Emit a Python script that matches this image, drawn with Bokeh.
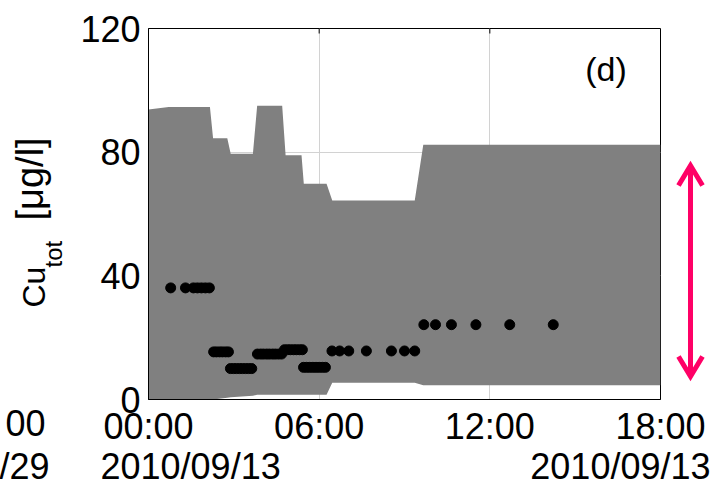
from math import pi

from bokeh.plotting import figure
from bokeh.models import Range1d, FixedTicker
from bokeh.core.properties import value
from bokeh.embed import file_html
from bokeh.resources import INLINE

# Time axis: hours after 2010/09/13 00:00
band_t = [0.0, 0.71, 2.16, 2.27, 2.77, 2.89, 3.67, 3.82, 4.70, 4.82,
          5.38, 5.46, 6.26, 6.46, 9.36, 9.66, 18.0]
band_hi = [93.8, 94.6, 94.6, 84.5, 84.5, 79.5, 79.5, 95.0, 95.0, 79.0,
           79.0, 69.8, 69.8, 64.4, 64.4, 82.4, 82.4]
band_lo = [0.0, 0.0, 0.0, 0.0, 0.6, 0.75, 1.2, 1.5, 1.5, 1.5,
           1.5, 1.5, 1.5, 5.4, 5.4, 4.6, 4.6]

# measured total copper
cu_t = [0.78, 1.30, 1.58, 1.72, 1.86, 2.00, 2.14,
        2.29, 2.39, 2.50, 2.60, 2.71, 2.81,
        2.88, 2.99, 3.09, 3.20, 3.30, 3.41, 3.52, 3.63,
        3.83, 3.94, 4.04, 4.15, 4.25, 4.36, 4.46, 4.57, 4.68,
        4.78, 4.89, 4.99, 5.10, 5.20, 5.31, 5.41,
        5.45, 5.56, 5.67, 5.78, 5.89, 6.00, 6.11, 6.22,
        6.45, 6.72, 7.04, 7.66, 8.54, 9.00, 9.36,
        9.68, 10.09, 10.65, 11.51, 12.70, 14.23]
cu_v = [36.1] * 7 + [15.4] * 6 + [10.0] * 8 + [14.7] * 9 + [16.1] * 7 \
    + [10.4] * 8 + [15.7] * 7 + [24.2] * 6

x_ticks = [0, 6, 12, 18]
x_tick_labels = ["00:00", "06:00", "12:00", "18:00"]
y_ticks = [0, 40, 80, 120]
date_text = "2010/09/13"

FONT = "Liberation Sans"
W, H = 721, 490
L, R, T, B = 148, 61, 28, 91
FW, FH = W - L - R, H - T - B
X0, X1, Y0, Y1 = 0, 18, 0, 120


def dx(px):
    return X0 + (px - L) * (X1 - X0) / FW


def dy(py):
    return Y0 + (H - B - py) * (Y1 - Y0) / FH


p = figure(width=W, height=H, x_range=Range1d(X0, X1), y_range=Range1d(Y0, Y1),
           output_backend="svg", toolbar_location=None,
           min_border_left=L, min_border_right=R, min_border_top=T, min_border_bottom=B)
p.background_fill_color = "white"
p.border_fill_color = "white"
p.outline_line_color = "black"
p.outline_line_width = 1

# axes
xa = p.below[0]
xa.ticker = FixedTicker(ticks=x_ticks)
xa.major_label_overrides = dict(zip(x_ticks, x_tick_labels))
ya = p.left[0]
ya.ticker = FixedTicker(ticks=y_ticks)
for ax in (xa, ya):
    ax.major_label_text_font = FONT
    ax.major_label_text_font_size = "36px"
    ax.major_label_text_color = "black"
    ax.major_tick_in = 0
    ax.major_tick_out = 0
    ax.minor_tick_line_color = None
    ax.axis_line_color = "black"
    ax.major_label_standoff = 6
ya.major_label_standoff = 8

p.xgrid.ticker = FixedTicker(ticks=[6, 12])
p.ygrid.ticker = FixedTicker(ticks=[40, 80])
p.grid.grid_line_color = "#d2d2d2"
p.grid.grid_line_width = 1

# uncertainty band and measurements
p.varea(x=band_t, y1=band_lo, y2=band_hi, fill_color="#808080")
p.scatter(cu_t, cu_v, size=10, color="black")

# short inward ticks on the top edge
p.segment(x0=[6, 12], y0=[Y1, Y1], x1=[6, 12], y1=[dy(T + 5)] * 2,
          line_color="black", line_width=1)

# the text glyph sits its baseline about 0.4 em below the anchor; compensate
BASE_SHIFT = 0.4


# free texts around the frame (overlay level, so they are not clipped)
def lab(text, px, py, size=36, align="left", angle=0.0):
    if angle:
        px -= BASE_SHIFT * size
    else:
        py -= BASE_SHIFT * size
    p.text(x=[dx(px)], y=[dy(py)], text=[text], angle=angle,
           text_font=value(FONT), text_font_size=value(f"{size}px"),
           text_color="black", text_align=align, text_baseline="alphabetic",
           level="overlay")


lab(date_text, 100, 480)
lab(date_text, 710, 480, align="right")
lab("00", 45, 437, align="right")
lab("/29", 49, 480, align="right")
lab("(d)", 605.5, 82, size=34, align="center")

lab("Cu", 46, 307, size=32, angle=pi / 2)
lab("tot", 63, 267, size=24, angle=pi / 2)
lab("[\u03bcg/l]", 45, 220, size=38, angle=pi / 2)

# double-headed range arrow beside the frame
pink = "#ff0066"
ax_px, top_px, bot_px, head_w, head_h = 690, 165, 376, 12, 20
p.segment(x0=[dx(ax_px)], y0=[dy(bot_px)], x1=[dx(ax_px)], y1=[dy(top_px)],
          line_color=pink, line_width=5, level="overlay")
p.multi_line(
    xs=[[dx(ax_px - head_w), dx(ax_px), dx(ax_px + head_w)]] * 2,
    ys=[[dy(top_px + head_h), dy(top_px), dy(top_px + head_h)],
        [dy(bot_px - head_h), dy(bot_px), dy(bot_px - head_h)]],
    line_color=pink, line_width=5, line_join="miter", level="overlay")

open("out.html", "w").write(file_html(p, INLINE))
